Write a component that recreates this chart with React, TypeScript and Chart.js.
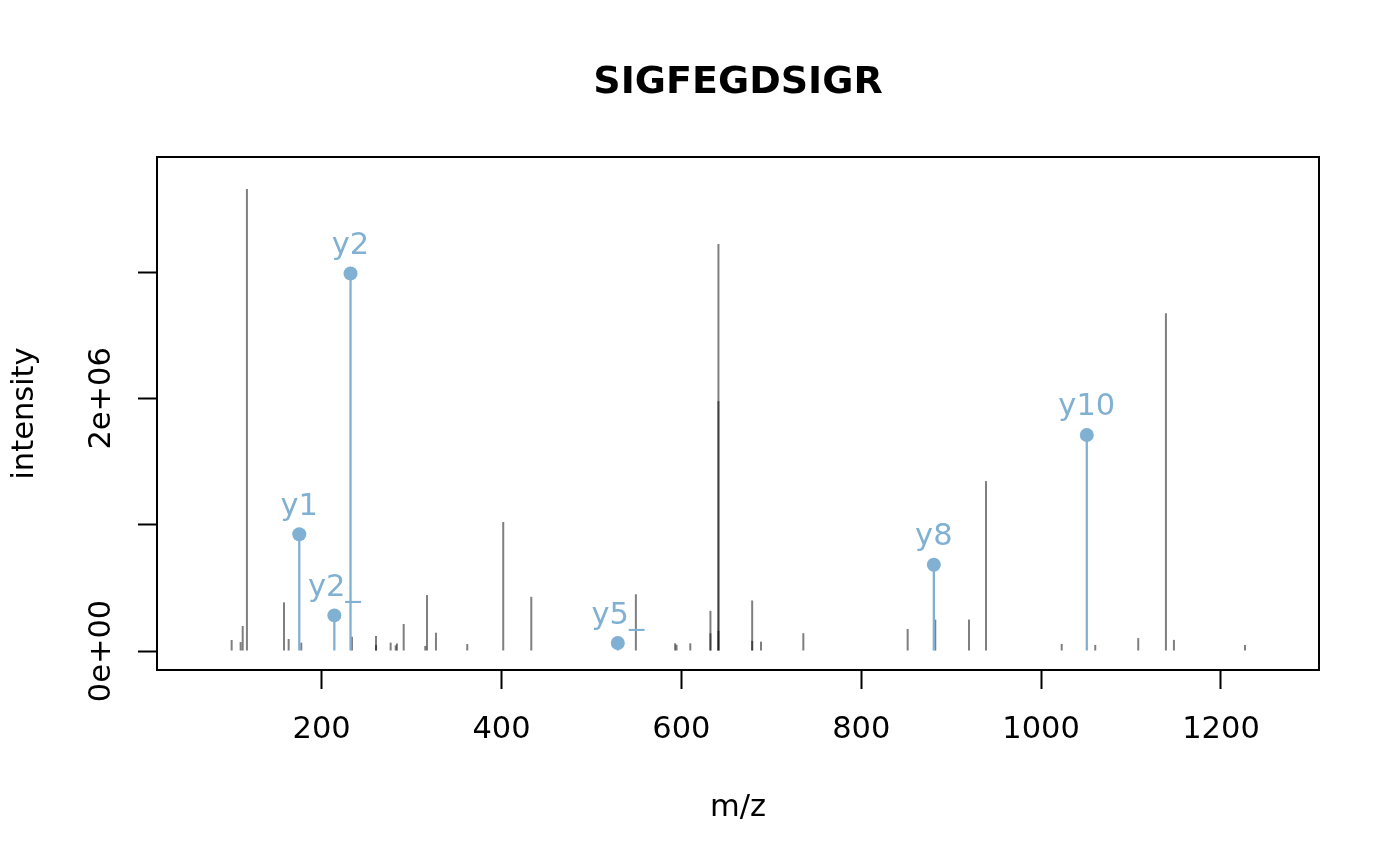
import { useEffect, useRef } from 'react';
import { Chart, registerables } from 'chart.js';

Chart.register(...registerables);

// ---- data ----
const plotTitle = 'SIGFEGDSIGR';
const xAxisTitle = 'm/z';
const yAxisTitle = 'intensity';

const peakMz = [
  99.9, 109.9, 112.2, 116.9, 158.1, 163.3, 177.3, 233.7, 260.4, 260.5,
  276.7, 282.3, 283.7, 291.2, 315.2, 317.1, 327.1, 361.9, 401.9, 433.1,
  549.4, 593.0, 594.6, 609.9, 632.3, 632.3, 641.2, 641.2, 641.2, 678.7,
  678.7, 688.5, 735.6, 851.6, 882.3, 919.8, 938.7, 1022.9, 1060.2, 1108.0,
  1138.8, 1147.7, 1226.7,
];
const peakIntensity = [
  87000, 71000, 198000, 3658000, 385000, 95000, 66000, 113000, 119000, 47000,
  66000, 45000, 60000, 214000, 40000, 443000, 145000, 55000, 1021000, 429000,
  449000, 61000, 50000, 61000, 318000, 140000, 3222000, 1978000, 160000, 400000,
  80000, 74000, 141000, 174000, 249000, 249000, 1345000, 56000, 48000, 102000,
  2674000, 88000, 48000,
];

const fragmentLabels = ['y1', 'y2_', 'y2', 'y5_', 'y8', 'y10'];
const fragmentMz = [175.1, 214.1, 232.1, 529.3, 880.7, 1050.8];
const fragmentIntensity = [924000, 282000, 2988000, 63000, 683000, 1710000];

const xTicks = [200, 400, 600, 800, 1000, 1200];
const xTickLabels = ['200', '400', '600', '800', '1000', '1200'];
const yTicks = [0, 1000000, 2000000, 3000000];
const yTickLabels = ['0e+00', '', '2e+06', ''];

const X_MIN = 16.9;
const X_MAX = 1309;
const Y_MIN = -150400;
const Y_MAX = 3910600;

const BLUE = '#80B1D3';
const GRAY = 'rgba(0,0,0,0.5)';
const FONT = '"DejaVu Sans", "Liberation Sans", sans-serif';

const textPlugin = {
  id: 'rStyleText',
  afterDraw(chart: any) {
    const { ctx, chartArea: ca, scales } = chart;
    const xs = scales.x;
    const ys = scales.y;
    ctx.save();
    // box
    ctx.strokeStyle = '#000';
    ctx.lineWidth = 2;
    ctx.strokeRect(ca.left, ca.top, ca.right - ca.left, ca.bottom - ca.top);

    ctx.fillStyle = '#000';
    ctx.textAlign = 'center';
    ctx.textBaseline = 'alphabetic';
    // title
    ctx.font = `bold 38px ${FONT}`;
    ctx.fillText(plotTitle, (ca.left + ca.right) / 2, 93);
    // x tick labels
    ctx.font = `30.5px ${FONT}`;
    xTicks.forEach((v, i) => {
      ctx.fillText(xTickLabels[i], xs.getPixelForValue(v), 738);
    });
    // x title
    ctx.fillText(xAxisTitle, (ca.left + ca.right) / 2, 816);
    // y tick labels (rotated)
    yTicks.forEach((v, i) => {
      const lab = yTickLabels[i];
      if (!lab) return;
      ctx.save();
      ctx.translate(110, ys.getPixelForValue(v));
      ctx.rotate(-Math.PI / 2);
      ctx.fillText(lab, 0, 0);
      ctx.restore();
    });
    // y title
    ctx.save();
    ctx.translate(33, (ca.top + ca.bottom) / 2);
    ctx.rotate(-Math.PI / 2);
    ctx.fillText(yAxisTitle, 0, 0);
    ctx.restore();
    // fragment labels
    ctx.fillStyle = BLUE;
    fragmentMz.forEach((m, i) => {
      ctx.fillText(
        fragmentLabels[i],
        xs.getPixelForValue(m),
        ys.getPixelForValue(fragmentIntensity[i]) - 19.5
      );
    });
    ctx.restore();
  },
};

export default function App() {
  const canvasRef = useRef<HTMLCanvasElement | null>(null);

  useEffect(() => {
    const canvas = canvasRef.current;
    if (!canvas) return;
    const chart = new Chart(canvas, {
      type: 'bar',
      data: {
        datasets: [
          {
            type: 'scatter',
            data: fragmentMz.map((x, i) => ({ x, y: fragmentIntensity[i] })),
            pointRadius: 7,
            pointBackgroundColor: BLUE,
            pointBorderWidth: 0,
            pointHoverRadius: 7,
            order: 0,
          } as any,
          {
            type: 'bar',
            data: fragmentMz.map((x, i) => ({ x, y: fragmentIntensity[i] })),
            backgroundColor: BLUE,
            barThickness: 2.3,
            grouped: false,
            inflateAmount: 0,
            order: 1,
          } as any,
          {
            type: 'bar',
            data: peakMz.map((x, i) => ({ x, y: peakIntensity[i] })),
            backgroundColor: GRAY,
            barThickness: 2,
            grouped: false,
            inflateAmount: 0,
            order: 2,
          } as any,
        ],
      },
      options: {
        responsive: false,
        animation: false,
        devicePixelRatio: 1,
        events: [],
        layout: { padding: { left: 0, right: 81, top: 157, bottom: 0 } },
        plugins: {
          legend: { display: false },
          tooltip: { enabled: false },
          title: { display: false },
        },
        scales: {
          x: {
            type: 'linear',
            offset: false,
            min: X_MIN,
            max: X_MAX,
            afterBuildTicks: (s: any) => {
              s.ticks = xTicks.map((v) => ({ value: v }));
            },
            afterFit: (s: any) => {
              s.height = 196;
            },
            ticks: { display: false },
            grid: {
              drawOnChartArea: false,
              drawTicks: true,
              tickLength: 19,
              tickWidth: 2,
              tickColor: '#000',
              offset: false,
            },
            border: { display: false },
          },
          y: {
            type: 'linear',
            min: Y_MIN,
            max: Y_MAX,
            afterBuildTicks: (s: any) => {
              s.ticks = yTicks.map((v) => ({ value: v }));
            },
            afterFit: (s: any) => {
              s.width = 157;
            },
            ticks: { display: false },
            grid: {
              drawOnChartArea: false,
              drawTicks: true,
              tickLength: 19,
              tickWidth: 2,
              tickColor: '#000',
            },
            border: { display: false },
          },
        },
      } as any,
      plugins: [textPlugin],
    });
    return () => chart.destroy();
  }, []);

  return (
    <div style={{ position: 'absolute', left: 0, top: 0, width: 1400, height: 866, background: '#fff' }}>
      <canvas ref={canvasRef} width={1400} height={866} style={{ display: 'block' }} />
    </div>
  );
}
